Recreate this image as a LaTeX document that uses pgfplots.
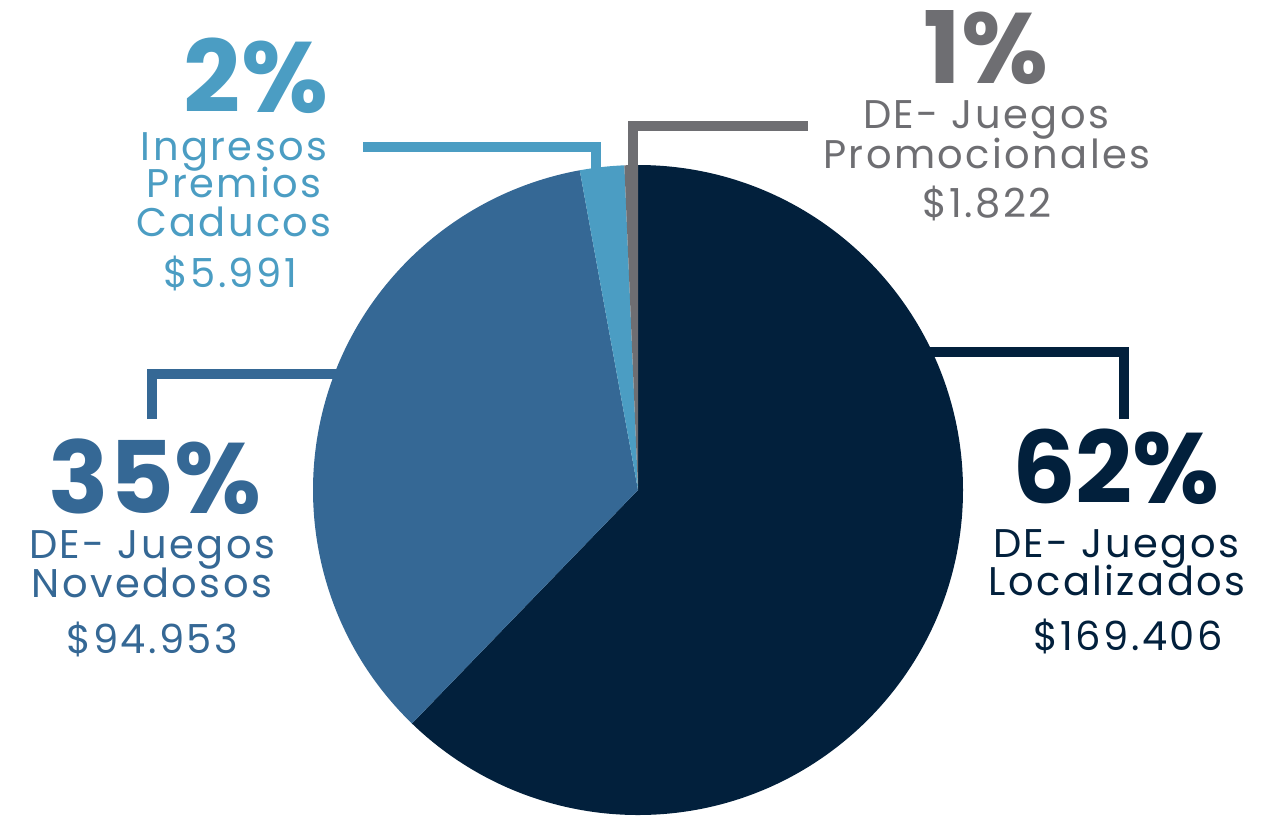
\documentclass[border=0pt]{standalone}
\usepackage{pgfplots}
\pgfplotsset{compat=1.18}
\usepackage{pgfplotstable}
\usepackage{fontspec}
\setmainfont{Poppins}
\newfontfamily\labfont{Poppins}[LetterSpace=6]
\definecolor{cnavy}{HTML}{02203C}
\definecolor{cmed}{HTML}{356895}
\definecolor{clight}{HTML}{4B9DC3}
\definecolor{cgray}{HTML}{6E6E72}
\pgfplotstableread{
label value
Localizados 169.406
Novedosos 94.953
Caducos 5.991
Promocionales 1.822
}\pietable
\begin{document}
\begin{tikzpicture}
\pgfplotstablegetelem{0}{value}\of\pietable \let\vA\pgfplotsretval
\pgfplotstablegetelem{1}{value}\of\pietable \let\vB\pgfplotsretval
\pgfplotstablegetelem{2}{value}\of\pietable \let\vC\pgfplotsretval
\pgfplotstablegetelem{3}{value}\of\pietable \let\vD\pgfplotsretval
\pgfmathsetmacro\tot{\vA+\vB+\vC+\vD}
\pgfmathsetmacro\eA{90-360*(\vA/\tot)}
\pgfmathsetmacro\eB{\eA-360*(\vB/\tot)}
\pgfmathsetmacro\eC{\eB-360*(\vC/\tot)}
\pgfmathsetmacro\eD{\eC-360*(\vD/\tot)}
\begin{axis}[name=ax, scale only axis, width=635pt, height=410.5pt,
  xmin=0, xmax=1270, ymin=0, ymax=821, y dir=reverse, hide axis, clip=false]
% leader lines
\draw[cgray, line width=5pt] (axis cs:633,200) -- (axis cs:633,126) -- (axis cs:808,126);
\draw[clight, line width=5pt] (axis cs:595.5,200) -- (axis cs:595.5,147) -- (axis cs:363,147);
\draw[cmed, line width=5pt] (axis cs:152,419) -- (axis cs:152,374) -- (axis cs:400,374);
\draw[cnavy, line width=5pt] (axis cs:1124,419) -- (axis cs:1124,352) -- (axis cs:880,352);
% pie
\fill[cnavy] (axis cs:638,490) -- ++(90:162.5pt) arc[start angle=90, end angle=\eA, radius=162.5pt] -- cycle;
\fill[cmed] (axis cs:638,490) -- ++(\eA:162.5pt) arc[start angle=\eA, end angle=\eB, radius=162.5pt] -- cycle;
\fill[clight] (axis cs:638,490) -- ++(\eB:162.5pt) arc[start angle=\eB, end angle=\eC, radius=162.5pt] -- cycle;
\fill[cgray] (axis cs:638,490) -- ++(\eC:162.5pt) arc[start angle=\eC, end angle=\eD, radius=162.5pt] -- cycle;
% labels
\tikzset{big/.style={anchor=base, inner sep=0pt, font=\bfseries\fontsize{50}{50}\selectfont},
         lab/.style={anchor=base, inner sep=0pt, font=\labfont\fontsize{20}{20}\selectfont}}
\node[big, text=clight] at (axis cs:256,112) {2\%};
\node[lab, text=clight] at (axis cs:234,160) {Ingresos};
\node[lab, text=clight] at (axis cs:234,197) {Premios};
\node[lab, text=clight] at (axis cs:234,236) {Caducos};
\node[lab, text=clight] at (axis cs:230,287) {\$5.991};
\node[big, text=cgray] at (axis cs:986,83) {1\%};
\node[lab, text=cgray] at (axis cs:986,128) {DE- Juegos};
\node[lab, text=cgray] at (axis cs:987,168) {Promocionales};
\node[lab, text=cgray] at (axis cs:987,217) {\$1.822};
\node[big, text=cmed] at (axis cs:155,513) {35\%};
\node[lab, text=cmed] at (axis cs:152,558) {DE- Juegos};
\node[lab, text=cmed] at (axis cs:152,597) {Novedosos};
\node[lab, text=cmed] at (axis cs:152,653) {\$94.953};
\node[big, text=cnavy] at (axis cs:1116,503) {62\%};
\node[lab, text=cnavy] at (axis cs:1116,557) {DE- Juegos};
\node[lab, text=cnavy] at (axis cs:1117,595) {Localizados};
\node[lab, text=cnavy] at (axis cs:1128,650) {\$169.406};
\end{axis}
\pgfresetboundingbox
\path[use as bounding box] (ax.south west) rectangle (ax.north east);
\end{tikzpicture}
\end{document}
